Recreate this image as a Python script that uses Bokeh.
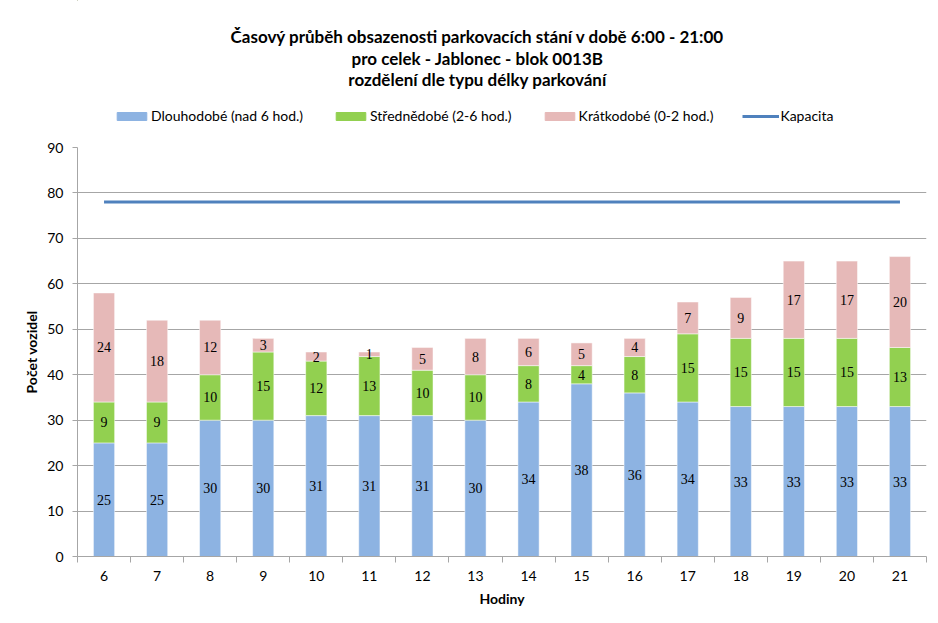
from bokeh.plotting import figure
from bokeh.layouts import column
from bokeh.models import ColumnDataSource, LabelSet, Legend, LegendItem, FixedTicker, Range1d
from bokeh.core.properties import value
from bokeh.embed import file_html
from bokeh.resources import INLINE

hours = [6, 7, 8, 9, 10, 11, 12, 13, 14, 15, 16, 17, 18, 19, 20, 21]
dlouhodobe = [25, 25, 30, 30, 31, 31, 31, 30, 34, 38, 36, 34, 33, 33, 33, 33]
strednedobe = [9, 9, 10, 15, 12, 13, 10, 10, 8, 4, 8, 15, 15, 15, 15, 13]
kratkodobe = [24, 18, 12, 3, 2, 1, 5, 8, 6, 5, 4, 7, 9, 17, 17, 20]
kapacita = [78] * len(hours)

series_names = ["Dlouhodobé (nad 6 hod.)", "Střednědobé (2-6 hod.)", "Krátkodobé (0-2 hod.)"]
capacity_name = "Kapacita"
colors = ["#8DB3E2", "#92D050", "#E6B9B8"]
line_color = "#4F81BD"
title_lines = ["Časový průběh obsazenosti parkovacích stání v době 6:00 - 21:00",
               "pro celek - Jablonec - blok 0013B",
               "rozdělení dle typu délky parkování"]

FONT = "Lato"
GRID = "#A6A6A6"
W = 938
TOP_H = 139
MAIN_H = 623 - TOP_H
LEFT, RIGHT = 77, 12

# ---------- header figure: title + legend ----------
hdr = figure(width=W, height=TOP_H, output_backend="svg", toolbar_location=None,
             x_range=Range1d(LEFT, W - RIGHT), y_range=Range1d(TOP_H, 0),
             min_border_left=LEFT, min_border_right=RIGHT,
             min_border_top=0, min_border_bottom=0)
hdr.axis.visible = False
hdr.grid.visible = False
hdr.outline_line_color = None

tsrc = ColumnDataSource(dict(x=[477, 477, 477], y=[36, 58, 79], t=title_lines))
hdr.text(x="x", y="y", text="t", source=tsrc, text_align="center", text_baseline="middle",
         text_font=value(FONT), text_font_size="17px", text_font_style="bold", text_color="#000000")

dummy = [hdr.vbar(x=[-1000], top=[-1000], bottom=[-1001], width=1, color=c) for c in colors]
dline = hdr.line(x=[-1000, -999], y=[-1000, -1000], line_color=line_color, line_width=3)
items = [LegendItem(label=series_names[i], renderers=[dummy[i]]) for i in range(3)]
items.append(LegendItem(label=capacity_name, renderers=[dline]))
leg = Legend(items=items, orientation="horizontal", location=(113 - LEFT, 15),
             glyph_width=37, glyph_height=10, label_height=16, label_standoff=1,
             spacing=29, padding=0, margin=0, border_line_alpha=0, background_fill_alpha=0,
             label_text_font=FONT, label_text_font_size="14px", label_text_color="#000000")
hdr.add_layout(leg, "center")

# ---------- main chart ----------
src = ColumnDataSource(dict(x=hours, d=dlouhodobe, s=strednedobe, k=kratkodobe))

p = figure(width=W, height=MAIN_H, output_backend="svg", toolbar_location=None,
           x_range=Range1d(5.5, 21.5), y_range=Range1d(0, 90),
           min_border_left=LEFT, min_border_right=RIGHT, min_border_top=8, min_border_bottom=67)

r = p.vbar_stack(["d", "s", "k"], x="x", width=0.4, source=src, color=colors,
                 line_color="white", line_width=0.5)
p.line(hours, kapacita, line_color=line_color, line_width=3)

def mids(bottom, vals):
    return [b + v / 2 for b, v in zip(bottom, vals)]

b0 = [0] * len(hours)
b1 = dlouhodobe
b2 = [a + b for a, b in zip(dlouhodobe, strednedobe)]
lab_x = hours * 3
lab_y = mids(b0, dlouhodobe) + mids(b1, strednedobe) + mids(b2, kratkodobe)
lab_t = [str(v) for v in dlouhodobe + strednedobe + kratkodobe]
lsrc = ColumnDataSource(dict(x=lab_x, y=lab_y, t=lab_t))
p.add_layout(LabelSet(x="x", y="y", text="t", source=lsrc, text_align="center",
                      text_baseline="middle", text_font=FONT, text_font_size="14px",
                      text_color="#000000"))

p.xgrid.grid_line_color = None
p.ygrid.grid_line_color = GRID
p.ygrid.grid_line_width = 1
p.yaxis.ticker = FixedTicker(ticks=list(range(0, 91, 10)))
p.xaxis.ticker = FixedTicker(ticks=hours, minor_ticks=[h - 0.5 for h in hours] + [hours[-1] + 0.5])
for ax in (p.xaxis[0], p.yaxis[0]):
    ax.axis_line_color = GRID
    ax.major_tick_line_color = GRID
    ax.minor_tick_line_color = GRID
    ax.major_label_text_font = FONT
    ax.major_label_text_font_size = "14px"
    ax.major_label_text_color = "#000000"
    ax.axis_label_text_font = FONT
    ax.axis_label_text_font_size = "14px"
    ax.axis_label_text_font_style = "bold"
    ax.axis_label_text_color = "#000000"
p.xaxis.major_tick_out = 0
p.xaxis.major_tick_in = 0
p.xaxis.minor_tick_out = 6
p.xaxis.minor_tick_in = 0
p.xaxis.major_label_standoff = 8
p.xaxis.axis_label = "Hodiny"
p.xaxis.axis_label_standoff = 6
p.yaxis.major_tick_out = 5
p.yaxis.major_tick_in = 0
p.yaxis.minor_tick_line_color = None
p.yaxis.major_label_standoff = 9
p.yaxis.axis_label = "Počet vozidel"
p.yaxis.axis_label_standoff = 4
p.outline_line_color = None

layout = column(hdr, p, spacing=0)
open("out.html", "w").write(file_html(layout, INLINE))
